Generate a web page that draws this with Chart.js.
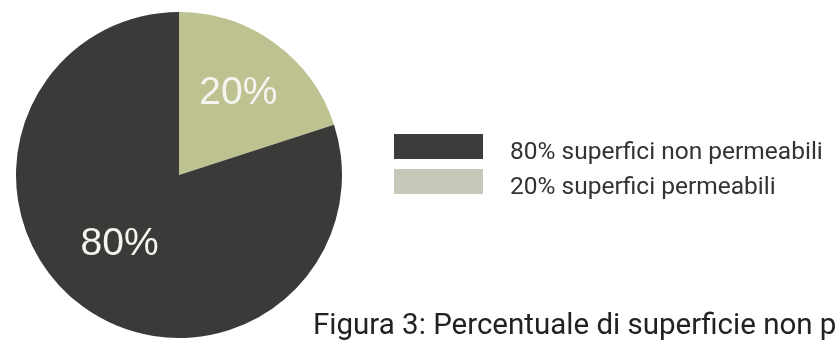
<!DOCTYPE html>
<html>
<head>
<meta charset="utf-8">
<script src="https://cdn.jsdelivr.net/npm/chart.js@4"></script>
<style>
  html, body { margin: 0; padding: 0; background: #fff; }
  #wrap { position: relative; width: 836px; height: 340px; overflow: hidden; }
</style>
</head>
<body>
<div id="wrap"><canvas id="pie" width="836" height="340"></canvas></div>
<script>
// Data
const categories = ['superfici permeabili', 'superfici non permeabili'];
const values = [20, 80];
const sliceColors = ['#bec290', '#3a3a38'];
const legendColors = ['#3c3c3a', '#c6c9b9'];
const legendOrder = [1, 0];
const caption = 'Figura 3: Percentuale di superficie non permeabile';

// percent labels inside slices
const sliceLabels = {
    id: 'sliceLabels',
    afterDatasetsDraw(chart, args, opts) {
        const ctx = chart.ctx;
        const meta = chart.getDatasetMeta(0);
        ctx.save();
        ctx.font = opts.font;
        ctx.fillStyle = opts.color;
        ctx.textAlign = 'center';
        ctx.textBaseline = 'middle';
        meta.data.forEach((arc, i) => {
            const p = arc.getProps(['x', 'y', 'startAngle', 'endAngle', 'outerRadius'], true);
            const mid = (p.startAngle + p.endAngle) / 2 + opts.angleShift[i];
            const r = p.outerRadius * opts.radius[i];
            ctx.fillText(values[i] + '%', p.x + Math.cos(mid) * r, p.y + Math.sin(mid) * r);
        });
        ctx.restore();
    }
};

// legend + caption on the right
const sideText = {
    id: 'sideText',
    afterDraw(chart, args, opts) {
        const ctx = chart.ctx;
        ctx.save();
        legendOrder.forEach((idx, row) => {
            ctx.fillStyle = legendColors[row];
            ctx.fillRect(opts.boxX, opts.boxY + row * opts.rowGap, opts.boxW, opts.boxH);
            ctx.fillStyle = '#333333';
            ctx.font = opts.legendFont;
            ctx.textBaseline = 'alphabetic';
            ctx.fillText(values[idx] + '% ' + categories[idx], opts.textX, opts.textY + row * opts.rowGap);
        });
        ctx.fillStyle = '#222222';
        ctx.font = opts.captionFont;
        ctx.fillText(caption, opts.captionX, opts.captionY);
        ctx.restore();
    }
};

new Chart(document.getElementById('pie'), {
    type: 'pie',
    data: {
        labels: categories,
        datasets: [{
            data: values,
            backgroundColor: sliceColors,
            borderWidth: 0
        }]
    },
    options: {
        responsive: false,
        animation: false,
        layout: { padding: { left: 16, right: 494, top: 12, bottom: 2 } },
        plugins: {
            legend: { display: false },
            tooltip: { enabled: false },
            sliceLabels: {
                font: '39px "Liberation Sans", Arial, sans-serif',
                color: '#f4f4f0',
                radius: [0.62, 0.56],
                angleShift: [0, 0.08]
            },
            sideText: {
                boxX: 394, boxY: 134, boxW: 89, boxH: 25, rowGap: 35,
                textX: 510, textY: 159,
                legendFont: '24.5px Roboto, sans-serif',
                captionFont: '29.5px Roboto, sans-serif',
                captionX: 313, captionY: 334
            }
        }
    },
    plugins: [sliceLabels, sideText]
});
</script>
</body>
</html>
